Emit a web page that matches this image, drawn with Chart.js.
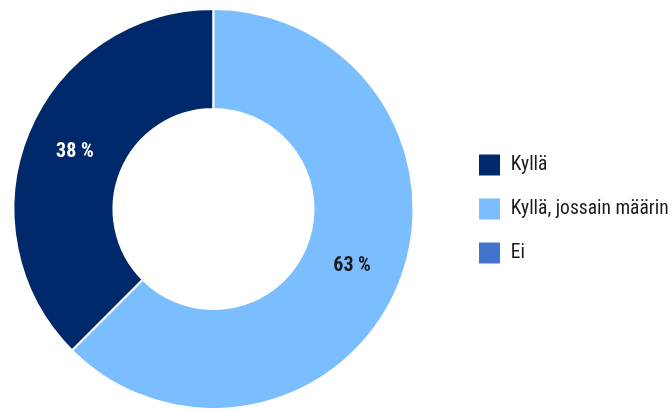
<!DOCTYPE html>
<html lang="fi">
<head>
<meta charset="utf-8">
<script src="https://cdn.jsdelivr.net/npm/chart.js@4.4.1/dist/chart.umd.min.js"></script>
<style>
  html, body { margin: 0; padding: 0; background: #ffffff; }
  #wrap { width: 672px; height: 410px; position: relative; }
</style>
</head>
<body>
<div id="wrap"><canvas id="donitsi"></canvas></div>
<script>
// vastaukset (%)
var kategoriat = ['Kyllä', 'Kyllä, jossain määrin', 'Ei'];
var arvot = [37.5, 62.5, 0];
var varit = ['#00296b', '#7abeff', '#4274cc'];
var tekstiVarit = ['#ffffff', '#1a1a1a', '#ffffff'];

var fontti = '"Roboto Condensed", "Open Sans", sans-serif';
Chart.defaults.font.family = fontti;

// prosenttiluvut sektorien keskelle
var prosenttiLabelit = {
    id: 'prosenttiLabelit',
    afterDatasetsDraw: function(chart) {
        var ctx = chart.ctx;
        var meta = chart.getDatasetMeta(0);
        ctx.save();
        ctx.font = 'bold 20px ' + fontti;
        ctx.textAlign = 'center';
        ctx.textBaseline = 'middle';
        meta.data.forEach(function(arc, i) {
            var v = arvot[i];
            if (!v) return;
            var p = arc.getCenterPoint();
            ctx.fillStyle = tekstiVarit[i];
            ctx.fillText(Math.round(v) + ' %', p.x, p.y);
        });
        ctx.restore();
    }
};

// selite hieman oikealle donitsista
var seliteSiirto = {
    id: 'seliteSiirto',
    afterLayout: function(chart) {
        chart.legend.left += 30;
        chart.legend.right = chart.width;
    }
};

var summa = arvot.reduce(function(a, b) { return a + b; }, 0);

new Chart(document.getElementById('donitsi').getContext('2d'), {
    type: 'doughnut',
    data: {
        labels: kategoriat,
        datasets: [{
            data: arvot,
            backgroundColor: varit,
            borderColor: '#ffffff',
            borderWidth: 2
        }]
    },
    options: {
        responsive: true,
        maintainAspectRatio: false,
        animation: false,
        cutout: '50%',
        rotation: -360 * arvot[0] / summa,
        layout: {
            padding: { left: 0, top: 8, right: 45, bottom: 0 }
        },
        plugins: {
            legend: {
                position: 'right',
                maxWidth: 200,
                labels: {
                    boxWidth: 23,
                    boxHeight: 23,
                    padding: 21,
                    color: '#1a1a1a',
                    font: { size: 19.5 }
                }
            },
            tooltip: { enabled: false }
        }
    },
    plugins: [prosenttiLabelit, seliteSiirto]
});
</script>
</body>
</html>
